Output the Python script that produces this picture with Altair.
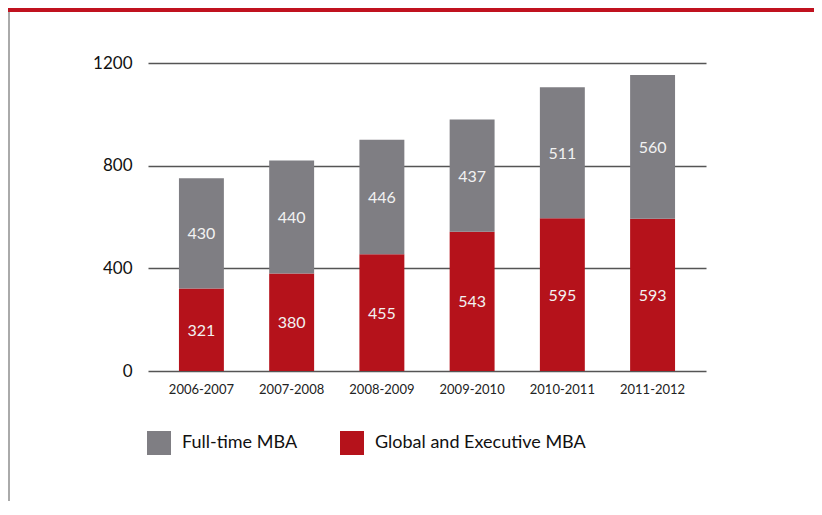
import altair as alt
import pandas as pd

years = ["2006-2007", "2007-2008", "2008-2009", "2009-2010", "2010-2011", "2011-2012"]
full_time = [430, 440, 446, 437, 511, 560]
global_exec = [321, 380, 455, 543, 595, 593]
series = ["Full-time MBA", "Global and Executive MBA"]
colors = ["#7f7e83", "#b5121b"]
y_ticks = [0, 400, 800, 1200]

rows = []
for i, y in enumerate(years):
    rows.append({"year": y, "program": series[1], "value": global_exec[i], "ord": 0})
    rows.append({"year": y, "program": series[0], "value": full_time[i], "ord": 1})
df = pd.DataFrame(rows)

FONT = "Lato"

x_enc = alt.X(
    "year:N",
    sort=years,
    scale=alt.Scale(paddingInner=0.502, paddingOuter=0.343),
    axis=alt.Axis(title=None, labelAngle=0, ticks=False, domain=False,
                  labelFontSize=13, labelPadding=12, labelColor="#222", labelFont=FONT),
)

bars = alt.Chart(df).mark_bar().encode(
    x=x_enc,
    y=alt.Y(
        "value:Q",
        stack="zero",
        scale=alt.Scale(domain=[0, 1200]),
        axis=alt.Axis(values=y_ticks, format="d", title=None, ticks=False, domain=False,
                      labelFontSize=17, labelPadding=16, labelColor="#111", labelFont=FONT,
                      gridColor="#555", gridWidth=1.5),
    ),
    color=alt.Color(
        "program:N",
        scale=alt.Scale(domain=series, range=colors),
        legend=alt.Legend(
            title=None, orient="none", legendX=-1, legendY=368, direction="horizontal",
            symbolType="square", symbolSize=576, symbolStrokeWidth=0, symbolOpacity=1,
            labelFontSize=18, labelFont=FONT, labelColor="#111", labelOffset=11,
            labelLimit=0, columnPadding=42, padding=0,
        ),
    ),
    order=alt.Order("ord:Q"),
)

labels = alt.Chart(df).transform_stack(
    stack="value", groupby=["year"], sort=[alt.SortField("ord")], as_=["v0", "v1"]
).transform_calculate(
    mid="(datum.v0 + datum.v1) / 2"
).mark_text(color="#f2f2f2", fontSize=16, font=FONT, baseline="middle", dy=1).encode(
    x=alt.X("year:N", sort=years),
    y=alt.Y("mid:Q"),
    text=alt.Text("value:Q"),
)

deco = pd.DataFrame({"a": [0]})
top_line = alt.Chart(deco).mark_rule(color="#c0121f", strokeWidth=4).encode(
    x=alt.value(-140), x2=alt.value(666), y=alt.value(-53)
)
left_line = alt.Chart(deco).mark_rule(color="#aaaaaa", strokeWidth=2).encode(
    x=alt.value(-139), y=alt.value(-51), y2=alt.value(460)
)

chart = alt.layer(bars, labels, top_line, left_line).properties(
    width=558, height=308,
    autosize=alt.AutoSizeParams(type="none"),
    padding={"left": 140, "top": 55, "right": 108, "bottom": 130},
).configure_view(strokeWidth=0)

chart.save("out.html", embed_options={"renderer": "svg", "actions": False})
